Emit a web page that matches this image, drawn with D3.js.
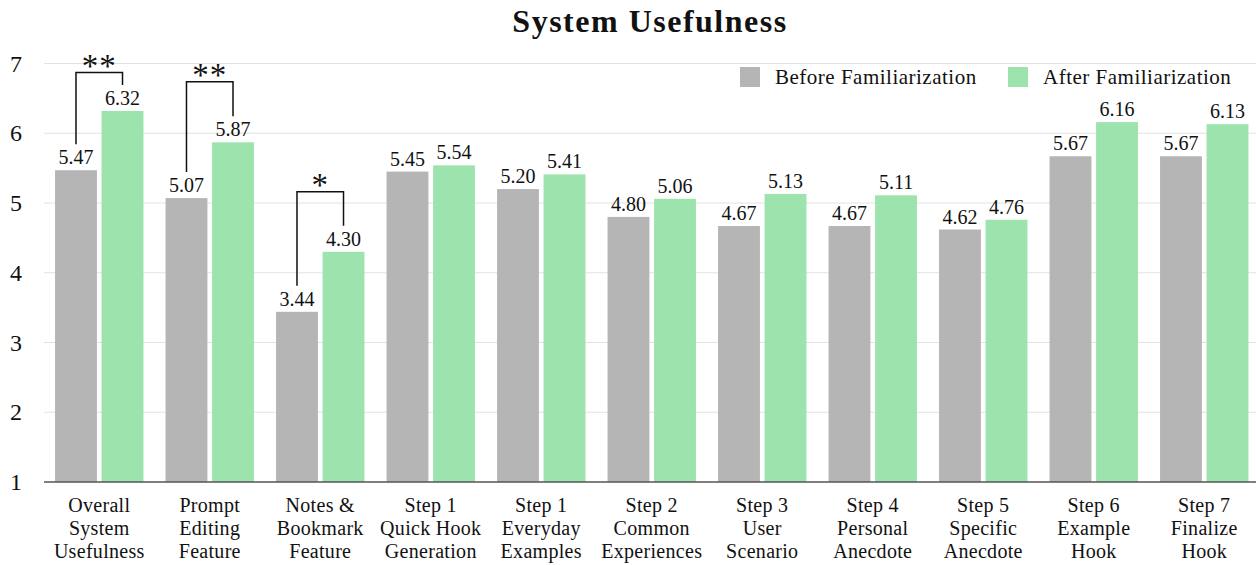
<!DOCTYPE html>
<html>
<head>
<meta charset="utf-8">
<script src="https://cdn.jsdelivr.net/npm/d3@7"></script>
<style>
  body { margin: 0; background: #fff; }
  text { font-family: "Liberation Serif", serif; fill: #111; }
</style>
</head>
<body>
<script>
// chart data
var categories = [
  ["Overall", "System", "Usefulness"],
  ["Prompt", "Editing", "Feature"],
  ["Notes &", "Bookmark", "Feature"],
  ["Step 1", "Quick Hook", "Generation"],
  ["Step 1", "Everyday", "Examples"],
  ["Step 2", "Common", "Experiences"],
  ["Step 3", "User", "Scenario"],
  ["Step 4", "Personal", "Anecdote"],
  ["Step 5", "Specific", "Anecdote"],
  ["Step 6", "Example", "Hook"],
  ["Step 7", "Finalize", "Hook"]
]
var before = [5.47, 5.07, 3.44, 5.45, 5.20, 4.80, 4.67, 4.67, 4.62, 5.67, 5.67]
var after = [6.32, 5.87, 4.30, 5.54, 5.41, 5.06, 5.13, 5.11, 4.76, 6.16, 6.13]
var seriesNames = ["Before Familiarization", "After Familiarization"]
var yTicks = [1, 2, 3, 4, 5, 6, 7]
// significance markers: category index, stars, bracket top value
var sig = [
  {i: 0, stars: "**", top: 6.87},
  {i: 1, stars: "**", top: 6.74},
  {i: 2, stars: "*", top: 5.16}
]

var width = 1256, height = 565
var svg = d3.select("body").append("svg")
  .attr("width", width)
  .attr("height", height)

var colors = ["#b5b5b5", "#9de3ad"]

var x = d3.scaleBand()
  .domain(d3.range(categories.length))
  .range([44, 1259.5])
  .paddingInner(0.2)
  .paddingOuter(0.1)

var sub = d3.scaleBand()
  .domain([0, 1])
  .range([0, x.bandwidth()])
  .paddingInner(0.1)

var y = d3.scaleLinear()
  .domain([1, 7])
  .range([482, 63.5])

// title
svg.append("text")
  .attr("x", 650)
  .attr("y", 32)
  .attr("text-anchor", "middle")
  .style("font-size", "32px")
  .style("font-weight", "bold")
  .style("letter-spacing", "1.5px")
  .text("System Usefulness")

// grid lines
svg.append("g")
  .selectAll("line")
  .data(yTicks.slice(1))
  .enter()
  .append("line")
  .attr("x1", 44)
  .attr("x2", width)
  .attr("y1", function(d) { return y(d) })
  .attr("y2", function(d) { return y(d) })
  .attr("stroke", "#e2e2e2")
  .attr("stroke-width", 1)

// y tick labels
svg.append("g")
  .selectAll("text")
  .data(yTicks)
  .enter()
  .append("text")
  .attr("x", 22)
  .attr("y", function(d) { return y(d) + 8 })
  .attr("text-anchor", "end")
  .style("font-size", "24px")
  .text(function(d) { return d })

// bars
var groups = svg.append("g")
  .selectAll("g")
  .data(categories)
  .enter()
  .append("g")
  .attr("transform", function(d, i) { return "translate(" + x(i) + ",0)" })

groups.each(function(d, i) {
  var g = d3.select(this)
  var vals = [before[i], after[i]]
  vals.forEach(function(v, k) {
    g.append("rect")
      .attr("x", sub(k))
      .attr("y", y(v))
      .attr("width", sub.bandwidth())
      .attr("height", y(1) - y(v))
      .attr("fill", colors[k])
    g.append("text")
      .attr("x", sub(k) + sub.bandwidth() / 2)
      .attr("y", y(v) - 6)
      .attr("text-anchor", "middle")
      .style("font-size", "20px")
      .text(v.toFixed(2))
  })
  // category label
  var t = g.append("text")
    .attr("text-anchor", "middle")
    .style("font-size", "20px")
    .style("letter-spacing", "0.3px")
  d.forEach(function(line, j) {
    t.append("tspan")
      .attr("x", x.bandwidth() / 2)
      .attr("y", 512 + j * 23)
      .text(line)
  })
})

// x axis line
svg.append("line")
  .attr("x1", 44)
  .attr("x2", width)
  .attr("y1", y(1))
  .attr("y2", y(1))
  .attr("stroke", "#555")
  .attr("stroke-width", 1.5)

// significance brackets
sig.forEach(function(s) {
  var x0 = x(s.i) + sub(0) + sub.bandwidth() / 2
  var x1 = x(s.i) + sub(1) + sub.bandwidth() / 2
  var yt = y(s.top)
  var y0 = y(before[s.i]) - 26
  var y1 = y(after[s.i]) - 26
  svg.append("path")
    .attr("d", "M" + x0 + "," + y0 + "V" + yt + "H" + x1 + "V" + y1)
    .attr("fill", "none")
    .attr("stroke", "#111")
    .attr("stroke-width", 1.5)
  svg.append("text")
    .attr("x", (x0 + x1) / 2)
    .attr("y", yt + 4)
    .attr("text-anchor", "middle")
    .style("font-size", "33px")
    .style("letter-spacing", "1px")
    .text(s.stars)
})

// legend
var legend = svg.append("g")
seriesNames.forEach(function(name, k) {
  var lx = k == 0 ? 740 : 1008
  legend.append("rect")
    .attr("x", lx)
    .attr("y", 67)
    .attr("width", 20)
    .attr("height", 20)
    .attr("fill", colors[k])
  legend.append("text")
    .attr("x", lx + 35)
    .attr("y", 84)
    .style("font-size", "21px")
    .style("letter-spacing", "0.5px")
    .text(name)
})
</script>
</body>
</html>
